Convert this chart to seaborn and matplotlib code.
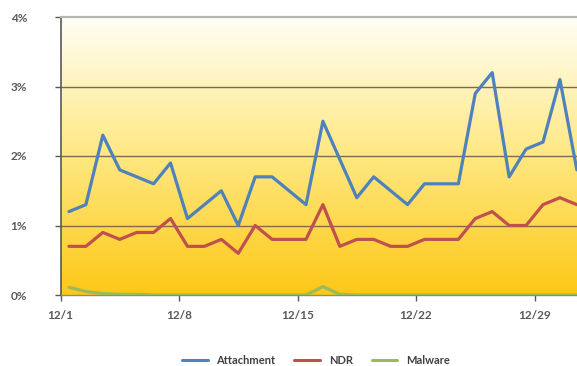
import numpy as np
import pandas as pd
import matplotlib
matplotlib.use("Agg")
import matplotlib.pyplot as plt
import seaborn as sns

# Daily rates (%) for December
days = list(range(1, 32))
attachment = [1.2, 1.3, 2.3, 1.8, 1.7, 1.6, 1.9, 1.1, 1.3, 1.5, 1.0, 1.7, 1.7, 1.5, 1.3,
              2.5, 1.95, 1.4, 1.7, 1.5, 1.3, 1.6, 1.6, 1.6, 2.9, 3.2, 1.7, 2.1, 2.2, 3.1, 1.8]
ndr = [0.7, 0.7, 0.9, 0.8, 0.9, 0.9, 1.1, 0.7, 0.7, 0.8, 0.6, 1.0, 0.8, 0.8, 0.8,
       1.3, 0.7, 0.8, 0.8, 0.7, 0.7, 0.8, 0.8, 0.8, 1.1, 1.2, 1.0, 1.0, 1.3, 1.4, 1.3]
malware = [0.11, 0.05, 0.02, 0.01, 0.01, 0.0, 0.0, 0.0, 0.0, 0.0, 0.0, 0.0, 0.0, 0.0, 0.0,
           0.12, 0.01, 0.0, 0.0, 0.0, 0.0, 0.0, 0.0, 0.0, 0.0, 0.0, 0.0, 0.0, 0.0, 0.0, 0.0]
series_names = ["Attachment", "NDR", "Malware"]
series_colors = ["#4F81BD", "#C0504D", "#9BBB59"]
x_tick_days = [1, 8, 15, 22, 29]
x_tick_labels = ["12/1", "12/8", "12/15", "12/22", "12/29"]
y_ticks = [0, 1, 2, 3, 4]

pos = [d - 0.5 for d in days]  # each day plotted mid-interval
df = pd.concat([
    pd.DataFrame({"pos": pos, "value": vals, "series": name})
    for name, vals in zip(series_names, [attachment, ndr, malware])
], ignore_index=True)

sns.set_style("white")
plt.rcParams["font.family"] = ["Lato", "DejaVu Sans"]

W, H = 577, 366
fig = plt.figure(figsize=(W / 100, H / 100), dpi=100)
fig.patch.set_facecolor("white")

px_per_day = 16.93
x0_px, y0_px, ytop_px = 60.5, 295, 17
xmax = 31
ax = fig.add_axes([x0_px / W, (H - y0_px) / H,
                   xmax * px_per_day / W, (y0_px - ytop_px) / H])

# vertical gold-to-cream gradient behind the plot
top = np.array([255, 254, 246]) / 255
mid = np.array([255, 232, 130]) / 255
bot = np.array([253, 200, 22]) / 255
t = np.linspace(0, 1, 256)[:, None]
grad = np.where(t < 0.5, top + (mid - top) * (t / 0.5), mid + (bot - mid) * ((t - 0.5) / 0.5))
ax.imshow(grad[:, None, :] * np.ones((1, 2, 1)), extent=[0, xmax, 0, 4],
          aspect="auto", zorder=0, interpolation="bilinear")

for g in [1, 2, 3]:
    ax.axhline(g, color="#7d6d4c", lw=1.0, zorder=1)

sns.lineplot(data=df, x="pos", y="value", hue="series", hue_order=series_names,
             palette=series_colors, linewidth=2.3, ax=ax, zorder=3,
             solid_joinstyle="round", solid_capstyle="round")

ax.set_xlim(0, xmax)
ax.set_ylim(0, 4)
ax.set_xlabel("")
ax.set_ylabel("")
ax.set_xticks([d - 1 for d in x_tick_days])
ax.set_xticklabels(x_tick_labels)
ax.set_yticks(y_ticks)
ax.set_yticklabels([f"{v}%" for v in y_ticks])

lab_color = "#595959"
ax.tick_params(axis="y", direction="out", length=4, width=1, color="#595959",
               pad=20, labelsize=8.5, labelcolor=lab_color, left=True)
ax.tick_params(axis="x", direction="out", length=4, width=1, color="#595959",
               pad=7, labelsize=8.5, labelcolor=lab_color, bottom=True)
for lbl in ax.get_xticklabels() + ax.get_yticklabels():
    lbl.set_fontweight("bold")

ax.spines["left"].set_color("#595959")
ax.spines["left"].set_linewidth(1.2)
ax.spines["bottom"].set_color("#8a8a8a")
ax.spines["bottom"].set_linewidth(1.0)
ax.spines["top"].set_color("#b5b5b5")
ax.spines["top"].set_linewidth(1.6)
ax.spines["right"].set_visible(False)

handles, labels = ax.get_legend_handles_labels()
ax.get_legend().remove()
leg = fig.legend(handles, labels, loc="center", bbox_to_anchor=(316 / W, 1 - 360.5 / H),
                 ncol=3, frameon=False, handlelength=2.3, columnspacing=1.7,
                 handletextpad=0.8, prop={"size": 8, "weight": "bold"})
for txt in leg.get_texts():
    txt.set_color("#404040")
for ln in leg.get_lines():
    ln.set_linewidth(2.2)

fig.savefig("out.png", dpi=100)
